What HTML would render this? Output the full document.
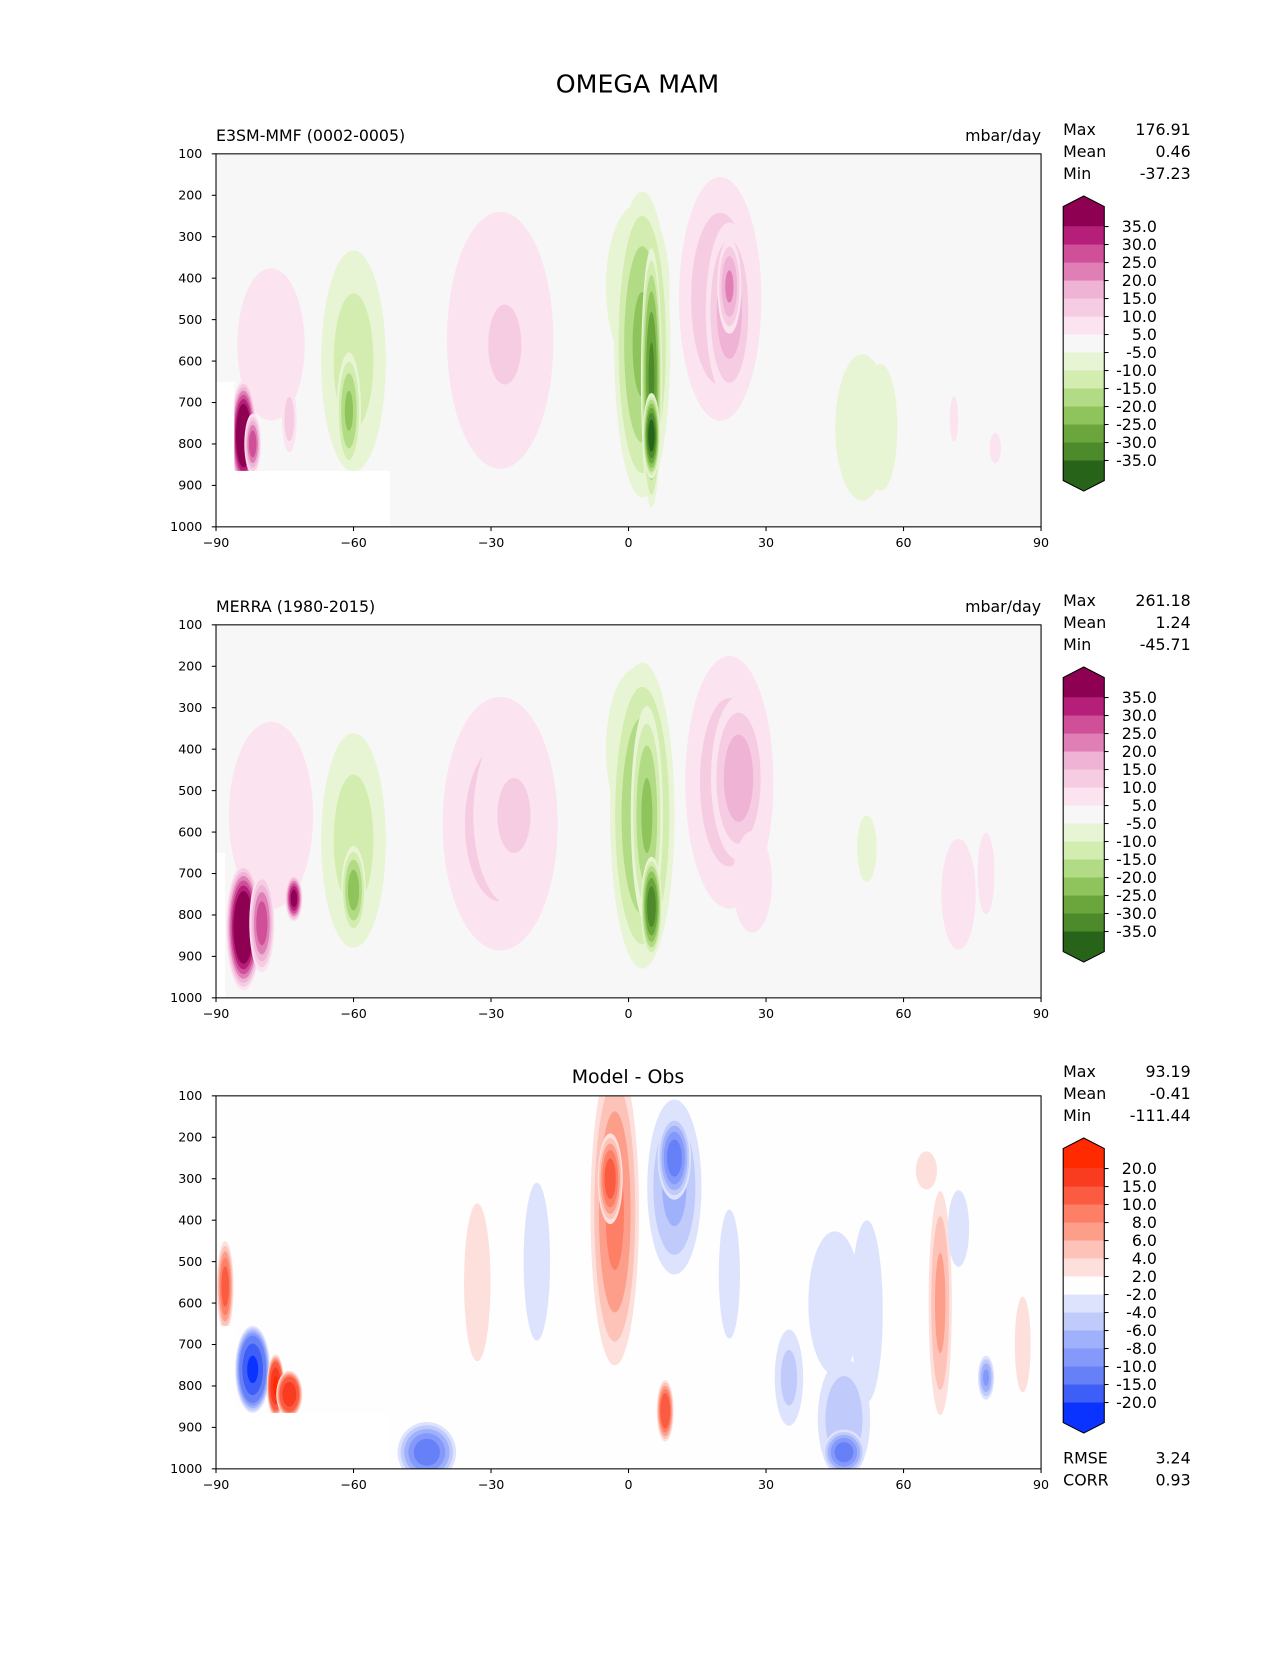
<!DOCTYPE html>
<html><head><meta charset="utf-8"><style>
body{margin:0;background:#fff;}
svg text{font-family:"DejaVu Sans","Liberation Sans",sans-serif;fill:#000;}
</style></head><body>
<svg id="root" width="1275" height="1650" xmlns="http://www.w3.org/2000/svg">
<g id="s" transform="scale(1.0537)">
<text x="605" y="88" font-size="24" text-anchor="middle">OMEGA MAM</text>
</g>
</svg>
<script>
// ---- data ----
const latTicks=[-90,-60,-30,0,30,60,90];
const pTicks=[100,200,300,400,500,600,700,800,900,1000];
const mainLevels=[35,30,25,20,15,10,5,-5,-10,-15,-20,-25,-30,-35];
const mainLabels=["35.0","30.0","25.0","20.0","15.0","10.0","5.0","-5.0","-10.0","-15.0","-20.0","-25.0","-30.0","-35.0"];
const mainColors=["#8e0152","#b51f7a","#cf4f98","#e07fb5","#efb3d6","#f6cce3","#fbe3f0","#f7f7f7","#e8f5d5","#d3ecb0","#b2db85","#8fc45c","#6aa63b","#4d8a2b","#276419"];
const diffLevels=[20,15,10,8,6,4,2,-2,-4,-6,-8,-10,-15,-20];
const diffLabels=["20.0","15.0","10.0","8.0","6.0","4.0","2.0","-2.0","-4.0","-6.0","-8.0","-10.0","-15.0","-20.0"];
const diffColors=["#ff2a00","#f93b20","#fb5b40","#fc7f66","#fc9e8a","#fdc3b8","#fde0dc","#fefefe","#dde3fd","#c0cbfc","#a0b1fb","#8499fa","#6680f8","#3e5ff7","#0a33ff"];
// blobs: lat, pressure, half-width(lat), half-height(mbar), value
const m1Lat=[-78,-84,-82,-74,-60,-61,-28,-27,2,3,5,5,20,22,22,51,55,71,80];
const m1P=[560,780,800,740,600,720,550,560,420,560,640,780,450,480,420,760,760,740,810];
const m1W=[12,3,2,2,9,3,15,12,13,7,2.5,2,11,6,3,11,6,1.5,2];
const m1H=[300,140,80,100,340,160,400,320,370,420,340,110,360,250,130,330,250,90,60];
const m1V=[8,50,30,14,-13,-22,12.5,11,-7,-22,-32,-40,15,19,22,-7,-8,8,8];
const m2Lat=[-78,-84,-80,-73,-60,-60,-28,-25,2,3,4,5,22,24,27,72,78,52];
const m2P=[560,830,820,760,620,740,580,560,400,560,560,780,480,470,720,750,700,640];
const m2W=[13,4,3,2,9,3,16,12,13,8,4,2.5,12,7,7,7,3,4];
const m2H=[320,160,130,60,330,120,390,300,370,420,300,130,380,230,200,250,160,150];
const m2V=[10,50,30,40,-13,-24,13,11,-7,-22,-22,-35,14,19,8,7,8,-7];
const dLat=[-88,-82,-77,-74,-44,-33,-20,-3,-4,10,10,8,22,35,47,47,52,68,72,78,86,65,45];
const dP=[560,760,800,820,960,550,500,380,300,320,250,860,530,780,880,960,620,600,420,780,700,280,600];
const dW=[2,4,2,3,7,5,5,6,3,7,4,2,4,4,7,5,6,3,4,2,3,4,10];
const dH=[120,110,80,60,80,330,330,420,120,250,110,80,270,150,180,60,380,320,160,60,200,80,300];
const dV=[12,-22,22,20,-12,3,-3,9,12,-7,-12,14,-3,-5,-6,-12,-3,7,-3,-9,3,3,-3];
// ---- drawing ----
const S=document.getElementById('s');const NS="http://www.w3.org/2000/svg";
function mk(t,a,p){const e=document.createElementNS(NS,t);for(const k in a)e.setAttribute(k,a[k]);(p||S).appendChild(e);return e;}
const X0=205,X1=988;
function xs(l){return X0+(l+90)/180*(X1-X0);}
function colorFor(v,levels,colors){for(let i=0;i<levels.length;i++){if(v>levels[i])return colors[i];}return colors[colors.length-1];}
function panel(id,top,lat,p,w,h,v,levels,colors,bg,mask,titleL,titleC,stats,cbTop){
  const ys=pp=>top+(pp-100)/900*354;
  const g=mk('g',{});
  
  
  const cp=mk('clipPath',{id:id+'c'},g);mk('rect',{x:X0,y:top,width:X1-X0,height:354},cp);
  mk('rect',{x:X0,y:top,width:X1-X0,height:354,fill:bg},g);
  const pg=mk('g',{'clip-path':'url(#'+id+'c)'},g);
  for(let i=0;i<lat.length;i++){
    const val=v[i];
    const thr=levels.filter(t=>val>0?(t>0&&t<val):(t<0&&t>val));
    thr.sort((a,b)=>Math.abs(a)-Math.abs(b));
    thr.forEach(t=>{const s=Math.sqrt(1-t/val);
      const e=mk('ellipse',{cx:xs(lat[i]),cy:ys(p[i]),rx:w[i]/180*(X1-X0)*s,ry:h[i]/900*354*s,fill:colorFor(t+(val>0?0.01:-0.01),levels,colors)},pg);
      
      });
  }
  if(mask){mask.forEach(r=>mk('rect',{x:xs(r[0]),y:ys(r[1]),width:xs(r[2])-xs(r[0]),height:ys(r[3])-ys(r[1]),fill:'#fff'},pg));}
  mk('rect',{x:X0,y:top,width:X1-X0,height:354,fill:'none',stroke:'#000','stroke-width':1},g);
  latTicks.forEach(l=>{mk('line',{x1:xs(l),x2:xs(l),y1:top+354,y2:top+358,stroke:'#000'},g);
    const t=mk('text',{x:xs(l),y:top+373,'font-size':12,'text-anchor':'middle'},g);t.textContent=l<0?'\u2212'+(-l):String(l);
    });
  pTicks.forEach(pp=>{mk('line',{x1:X0-4,x2:X0,y1:ys(pp),y2:ys(pp),stroke:'#000'},g);
    const t=mk('text',{x:X0-13,y:ys(pp)+4,'font-size':12,'text-anchor':'end'},g);t.textContent=pp;
    });
  if(titleL){let t=mk('text',{x:205,y:top-12,'font-size':15},g);t.textContent=titleL;
    t=mk('text',{x:988,y:top-12,'font-size':15,'text-anchor':'end'},g);t.textContent='mbar/day';}
  if(titleC){const t=mk('text',{x:596,y:top-12,'font-size':18,'text-anchor':'middle'},g);t.textContent=titleC;}
  stats.forEach((s,i)=>{const yy=(s[2]!==undefined?s[2]:top-18+i*21);
    let t=mk('text',{x:1009,y:yy,'font-size':15},g);t.textContent=s[0];
    t=mk('text',{x:1130,y:yy,'font-size':15,'text-anchor':'end'},g);t.textContent=s[1];});
  const cb=mk('g',{},g);
  const l0=cbTop+29,step=17.08,n=levels.length,xa=1009,xb=1048,xm=1028.5;
  mk('polygon',{points:`${xa},${l0} ${xa},${cbTop+10} ${xm},${cbTop} ${xb},${cbTop+10} ${xb},${l0}`,fill:colors[0]},cb);
  for(let i=0;i<n-1;i++)mk('rect',{x:xa,y:l0+i*step,width:xb-xa,height:step+0.5,fill:colors[i+1]},cb);
  const lb=l0+(n-1)*step;
  mk('polygon',{points:`${xa},${lb} ${xb},${lb} ${xb},${lb+19} ${xm},${lb+29} ${xa},${lb+19}`,fill:colors[colors.length-1]},cb);
  mk('polygon',{points:`${xa},${lb} ${xa},${lb+19} ${xm},${lb+29} ${xb},${lb+19} ${xb},${l0} ${xb},${cbTop+10} ${xm},${cbTop} ${xa},${cbTop+10}`,fill:'none',stroke:'#000','stroke-width':1},cb);
  const labs=colors===mainColors?mainLabels:diffLabels;
  labs.forEach((s,i)=>{mk('line',{x1:xb,x2:xb+4,y1:l0+i*step,y2:l0+i*step,stroke:'#000'},cb);
    const t=mk('text',{x:1098,y:l0+i*step+5,'font-size':15,'text-anchor':'end'},cb);t.textContent=s;
    });
}
panel('model',146,m1Lat,m1P,m1W,m1H,m1V,mainLevels,mainColors,'#f7f7f7',[[-90,865,-52,1000],[-90,650,-86,1000]],'E3SM-MMF (0002-0005)',null,[['Max','176.91'],['Mean','0.46'],['Min','-37.23']],186);
panel('obs',593,m2Lat,m2P,m2W,m2H,m2V,mainLevels,mainColors,'#f7f7f7',[[-90,650,-88,1000]],'MERRA (1980-2015)',null,[['Max','261.18'],['Mean','1.24'],['Min','-45.71']],633);
panel('diff',1040,dLat,dP,dW,dH,dV,diffLevels,diffColors,'#fefefe',[[-90,865,-52,1000],[-90,655,-86,1000]],null,'Model - Obs',[['Max','93.19'],['Mean','-0.41'],['Min','-111.44'],['RMSE','3.24',1389],['CORR','0.93',1410]],1080);
</script>
</body></html>
